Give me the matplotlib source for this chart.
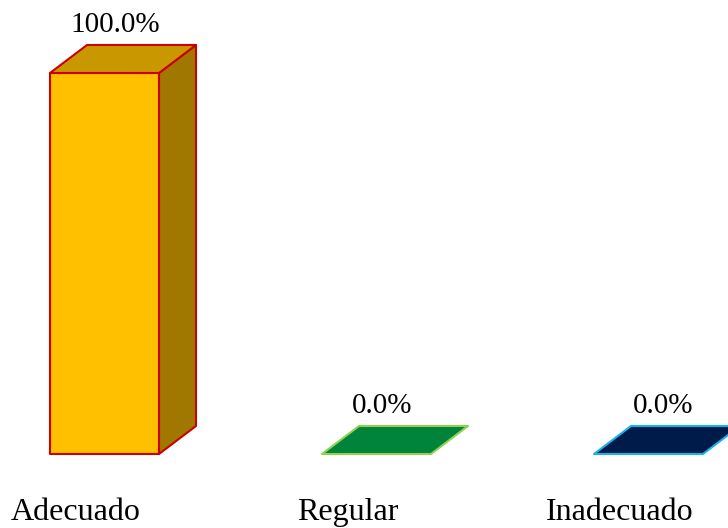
import matplotlib
matplotlib.use("Agg")
import matplotlib.pyplot as plt
from matplotlib.patches import Polygon

categories = ["Adecuado", "Regular", "Inadecuado"]
values = [100.0, 0.0, 0.0]
value_labels = ["100.0%", "0.0%", "0.0%"]

front_colors = ["#FFC000", "#00843C", "#001A4A"]
top_colors = ["#C99700", "#00843C", "#001A4A"]
side_colors = ["#A07800", "#006A30", "#00133A"]
edge_colors = ["#CC0000", "#92D050", "#1AB2EE"]
label_dx = [0.039, 0.020, 0.052]

plt.rcParams['font.family'] = ['Liberation Serif', 'DejaVu Serif']

fig = plt.figure(figsize=(7.28, 5.28), dpi=100)
ax = fig.add_axes([0, 0, 1, 1])
ax.set_xlim(-0.3842, 2.2923)
ax.set_ylim(-19.42, 119.16)
ax.axis('off')

w = 0.4007
dx = 0.136
dy = 7.35

for i, (cat, v) in enumerate(zip(categories, values)):
    x0, x1 = i - w / 2, i + w / 2
    ec = edge_colors[i]
    if v > 0:
        front = Polygon([(x0, 0), (x1, 0), (x1, v), (x0, v)], closed=True,
                        facecolor=front_colors[i], edgecolor=ec, lw=1.5, joinstyle='round')
        side = Polygon([(x1, 0), (x1 + dx, dy), (x1 + dx, v + dy), (x1, v)], closed=True,
                       facecolor=side_colors[i], edgecolor=ec, lw=1.5, joinstyle='round')
        ax.add_patch(side)
        ax.add_patch(front)
    top = Polygon([(x0, v), (x1, v), (x1 + dx, v + dy), (x0 + dx, v + dy)], closed=True,
                  facecolor=top_colors[i], edgecolor=ec, lw=1.5, joinstyle='round')
    ax.add_patch(top)
    ax.text(i + label_dx[i], v + dy + 3.4, value_labels[i], ha='center', va='baseline',
            fontsize=21, color='black')
    ax.text(i - 0.105, -17.2, cat, ha='center', va='baseline', fontsize=23, color='black')

fig.savefig("out.png", dpi=100, facecolor='white')
